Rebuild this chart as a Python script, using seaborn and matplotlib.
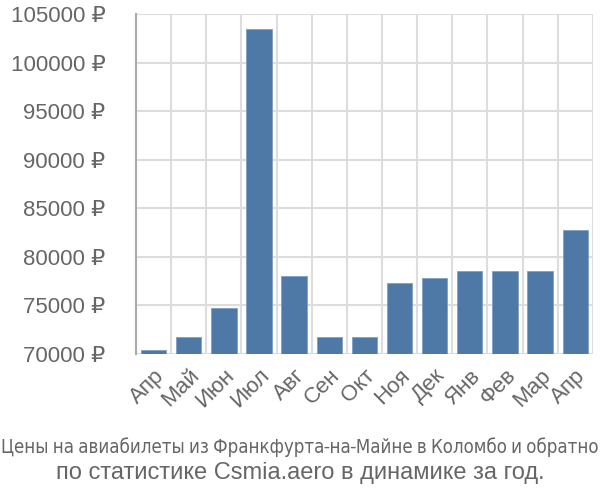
import matplotlib
matplotlib.use("Agg")
import matplotlib.pyplot as plt
import matplotlib.font_manager as fm
import seaborn as sns
import numpy as np
import pandas as pd

months = ["Апр", "Май", "Июн", "Июл", "Авг", "Сен", "Окт", "Ноя", "Дек", "Янв", "Фев", "Мар", "Апр"]
prices = [70370, 71780, 74730, 103450, 78030, 71780, 71780, 77310, 77820, 78540, 78540, 78540, 82720]
title_line1 = "Цены на авиабилеты из Франкфурта-на-Майне в Коломбо и обратно"
title_line2 = "по статистике Csmia.aero в динамике за год."

sns.set_style("white")
plt.rcParams['font.family'] = ['Liberation Sans', 'DejaVu Sans']

fig = plt.figure(figsize=(6, 5), dpi=100)
ax = fig.add_axes([0.2267, 0.292, 0.7613, 0.68])

df = pd.DataFrame({"idx": [str(i) for i in range(len(months))], "price": prices})
sns.barplot(data=df, x="idx", y="price", color="#4e79a7", saturation=1, width=0.72,
            edgecolor="#7f9fc2", linewidth=0.6, ax=ax, zorder=3)
for p in ax.patches:
    h = p.get_height()
    p.set_y(70000)
    p.set_height(h - 70000)

n = len(months)
ax.set_xlim(-0.5, n - 0.5)
ax.set_ylim(70000, 105000)
ax.set_yticks(np.arange(70000, 105001, 5000))
ax.set_yticklabels([f"{v} ₽" for v in range(70000, 105001, 5000)])
ax.set_xticks(range(n))
ax.set_xticklabels(months, rotation=45, ha="right", rotation_mode="anchor")
ax.set_xticks(np.arange(-0.5, n, 1), minor=True)

grid_c = "#dddddd"
ax.grid(True, axis="y", which="major", color=grid_c, linewidth=1.5, zorder=0)
ax.grid(True, axis="x", which="minor", color=grid_c, linewidth=1.5, zorder=0)
ax.set_axisbelow(True)
ax.tick_params(axis="x", which="major", length=0, pad=8, labelsize=16, labelcolor="#666666")
ax.tick_params(axis="x", which="minor", length=19, width=1.5, color=grid_c)
ax.tick_params(axis="y", which="major", length=20, width=1.5, color=grid_c, pad=2,
               labelsize=16, labelcolor="#666666")
for s in ["top", "right", "bottom"]:
    ax.spines[s].set_visible(False)
ax.spines["left"].set_color("#aaaaaa")
ax.spines["left"].set_linewidth(1.5)
ax.set_xlabel("")
ax.set_ylabel("")

# find a condensed/narrow font if present
narrow = None
for f in fm.fontManager.ttflist:
    nm = f.name.lower()
    if ("narrow" in nm or "condensed" in nm) and "mono" not in nm and "bold" not in f.style:
        if f.weight in (400, "normal", "regular", "book") :
            narrow = f.name
            break
if narrow is None:
    for f in fm.fontManager.ttflist:
        if f.name == "DejaVu Sans" and f.stretch == "condensed" and f.weight in (400, "normal", "book"):
            narrow = "DejaVu Sans"
            break

t1 = fig.text(0.5, 1 - 447 / 500, title_line1, ha="center", va="center", fontsize=17,
              color="#666666", family=[narrow or 'Liberation Sans', 'DejaVu Sans'],
              fontstretch="condensed")
t2 = fig.text(0.5, 1 - 473 / 500, title_line2, ha="center", va="center", fontsize=17,
              color="#666666")

# shrink line 1 to fit target width of ~596 px if needed
fig.canvas.draw()
r = fig.canvas.get_renderer()
w = t1.get_window_extent(r).width
if w > 596:
    t1.set_fontsize(17 * 596 / w)

fig.savefig("out.png", dpi=100)
